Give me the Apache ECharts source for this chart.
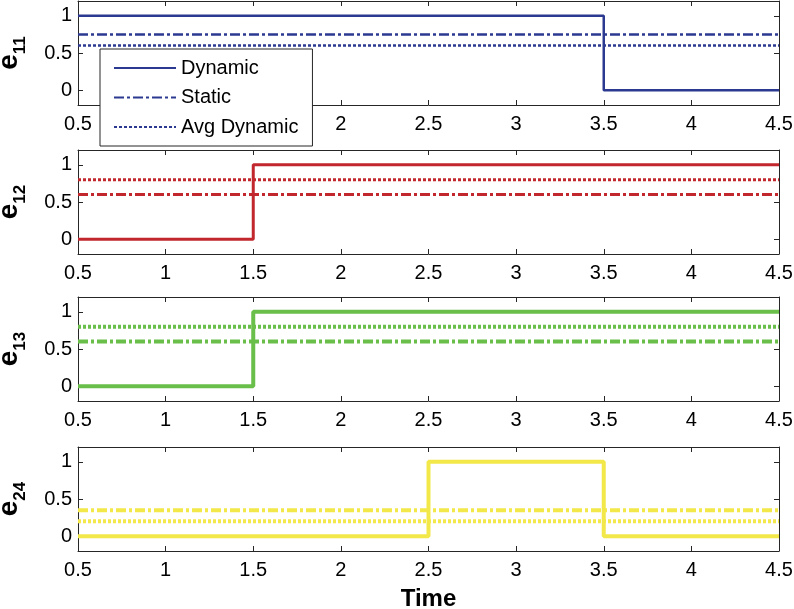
<!DOCTYPE html>
<html>
<head>
<meta charset="utf-8">
<script src="https://cdn.jsdelivr.net/npm/echarts@6/dist/echarts.min.js"></script>
<style>
  html, body { margin: 0; padding: 0; background: #fff; }
  #main { width: 794px; height: 609px; }
</style>
</head>
<body>
<div id="main"></div>
<script>
  // time points where the dynamic value changes (held until the next one)
  const stepTimes = [0.5, 1.5, 2.5, 3.5, 4.5]
  const xRange = [0.5, 4.5]
  const yTickValues = [0, 0.5, 1]

  const panelNames = ['11', '12', '13', '24']
  const panelColors = ['#2b3990', '#c1272d', '#6abf4b', '#f3e84a']
  const lineWidths = [2.5, 3, 4, 4]

  const dynE11 = [1, 1, 1, 0, 0]
  const dynE12 = [0, 1, 1, 1, 1]
  const dynE13 = [0, 1, 1, 1, 1]
  const dynE24 = [0, 0, 1, 0, 0]
  const dynamicVals = [dynE11, dynE12, dynE13, dynE24]

  const staticVals = [0.75, 0.6, 0.6, 0.35]
  const avgDynamicVals = [0.6, 0.8, 0.8, 0.2]

  const legendNames = ['Dynamic', 'Static', 'Avg Dynamic']

  const font = 'Liberation Sans'
  const axisColor = '#262626'
  const gridTops = [1, 150, 297, 447]
  const gridH = 104

  let grid = []
  let xAxis = []
  let yAxis = []
  let series = []

  for (let i = 0; i < 4; i++) {
    grid.push({ left: 78, right: 15, top: gridTops[i], height: gridH, outerBoundsMode: 'none', containLabel: false })

    // bottom axis with labels
    xAxis.push({
      gridIndex: i,
      type: 'value',
      min: 0.5,
      max: 4.5,
      interval: 0.5,
      position: 'bottom',
      axisLine: { onZero: false, lineStyle: { color: axisColor, width: 1 } },
      axisTick: { inside: true, length: 5, lineStyle: { color: axisColor } },
      axisLabel: { color: '#000', fontFamily: font, fontSize: 20, margin: 9 },
      splitLine: { show: false },
      name: i === 3 ? 'Time' : '',
      nameLocation: 'middle',
      nameGap: 36,
      nameTextStyle: { color: '#000', fontFamily: font, fontSize: 24, fontWeight: 'bold' }
    })
    // top mirror axis (box + ticks)
    xAxis.push({
      gridIndex: i,
      type: 'value',
      min: 0.5,
      max: 4.5,
      interval: 0.5,
      position: 'top',
      axisLine: { onZero: false, lineStyle: { color: axisColor, width: 1 } },
      axisTick: { inside: true, length: 5, lineStyle: { color: axisColor } },
      axisLabel: { show: false },
      splitLine: { show: false }
    })

    yAxis.push({
      gridIndex: i,
      type: 'value',
      min: -0.2,
      max: 1.2,
      position: 'left',
      axisLine: { onZero: false, lineStyle: { color: axisColor, width: 1 } },
      axisTick: { inside: true, length: 5, customValues: yTickValues, lineStyle: { color: axisColor } },
      axisLabel: { color: '#000', fontFamily: font, fontSize: 20, margin: 6, customValues: yTickValues },
      splitLine: { show: false },
      name: '{e|e}{s|' + panelNames[i] + '}',
      nameLocation: 'middle',
      nameRotate: 90,
      nameGap: 49,
      nameTextStyle: {
        rich: {
          e: { fontFamily: font, fontSize: 28, fontWeight: 'bold', color: '#000', verticalAlign: 'bottom', padding: [0, 0, 6, 0] },
          s: { fontFamily: font, fontSize: 17, fontWeight: 'bold', color: '#000', verticalAlign: 'bottom' }
        }
      }
    })
    yAxis.push({
      gridIndex: i,
      type: 'value',
      min: -0.2,
      max: 1.2,
      position: 'right',
      axisLine: { onZero: false, lineStyle: { color: axisColor, width: 1 } },
      axisTick: { inside: true, length: 5, customValues: yTickValues, lineStyle: { color: axisColor } },
      axisLabel: { show: false },
      splitLine: { show: false }
    })

    let dynData = []
    for (let k = 0; k < stepTimes.length; k++) {
      dynData.push([stepTimes[k], dynamicVals[i][k]])
    }
    const prefix = i === 0 ? '' : 'e' + panelNames[i] + ' '

    series.push({
      name: prefix + legendNames[0],
      type: 'line',
      xAxisIndex: i * 2,
      yAxisIndex: i * 2,
      step: 'end',
      symbol: 'none',
      data: dynData,
      lineStyle: { color: panelColors[i], width: lineWidths[i] },
      itemStyle: { color: panelColors[i] },
      z: 3
    })
    series.push({
      name: prefix + legendNames[1],
      type: 'line',
      xAxisIndex: i * 2,
      yAxisIndex: i * 2,
      symbol: 'none',
      data: xRange.map(x => [x, staticVals[i]]),
      lineStyle: { color: panelColors[i], width: lineWidths[i], type: [10, 3, 3, 3] },
      itemStyle: { color: panelColors[i] },
      z: 2
    })
    series.push({
      name: prefix + legendNames[2],
      type: 'line',
      xAxisIndex: i * 2,
      yAxisIndex: i * 2,
      symbol: 'none',
      data: xRange.map(x => [x, avgDynamicVals[i]]),
      lineStyle: { color: panelColors[i], width: lineWidths[i], type: [3, 2] },
      itemStyle: { color: panelColors[i] },
      z: 2
    })
  }

  let chart = echarts.init(document.getElementById('main'), null, { renderer: 'canvas' })
  chart.setOption({
    animation: false,
    backgroundColor: '#fff',
    grid: grid,
    xAxis: xAxis,
    yAxis: yAxis,
    legend: {
      data: legendNames,
      orient: 'vertical',
      left: 100,
      top: 49,
      padding: [8, 14, 8, 13],
      itemGap: 7.5,
      itemWidth: 62,
      itemHeight: 14,
      selectedMode: false,
      backgroundColor: '#fff',
      borderColor: axisColor,
      borderWidth: 1,
      itemStyle: { color: 'rgba(0,0,0,0)', borderWidth: 0, opacity: 0 },
      textStyle: { color: '#000', fontFamily: font, fontSize: 20, lineHeight: 22 },
      z: 10
    },
    series: series
  })
</script>
</body>
</html>
